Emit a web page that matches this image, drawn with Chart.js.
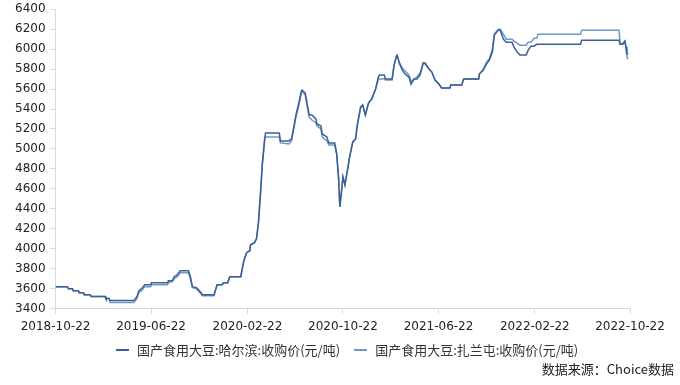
<!DOCTYPE html>
<html>
<head>
<meta charset="utf-8">
<script src="https://cdn.jsdelivr.net/npm/chart.js@4"></script>
<style>
  html, body { margin: 0; padding: 0; background: #fff; overflow: hidden; }
  #wrap { position: relative; width: 680px; height: 385px; overflow: hidden; }
  #chart { position: absolute; left: 0; top: -3px; }
  #legend { position: absolute; left: 116px; top: 340px; font: 13px "Noto Sans CJK SC", sans-serif; color: #333; white-space: nowrap; }
  #legend .item { display: inline-block; margin-right: 14px; }
  #legend .dash { display: inline-block; width: 13px; height: 2px; vertical-align: middle; margin-right: 8px; position: relative; top: -1px; }
  #source { position: absolute; right: 6px; top: 359px; font: 13px "Noto Sans CJK SC", sans-serif; color: #222; }
</style>
</head>
<body>
<div id="wrap">
  <canvas id="chart" width="680" height="388"></canvas>
  <div id="legend"></div>
  <div id="source">数据来源：Choice数据</div>
</div>
<script>
// Dates where the price changes
const dates = [
  '2018-10-22', '2018-11-21', '2018-11-24', '2018-12-04', '2018-12-06', '2018-12-19', '2018-12-21', '2019-01-01',
  '2019-01-03', '2019-01-18', '2019-01-21', '2019-02-25', '2019-02-27', '2019-03-07', '2019-03-10', '2019-05-09',
  '2019-05-17', '2019-05-22', '2019-05-29', '2019-06-06', '2019-06-21', '2019-06-23', '2019-08-03', '2019-08-05',
  '2019-08-15', '2019-08-20', '2019-08-28', '2019-09-04', '2019-09-25', '2019-09-30', '2019-10-05', '2019-10-15',
  '2019-10-20', '2019-10-27', '2019-10-30', '2019-11-29', '2019-12-07', '2019-12-19', '2019-12-24', '2020-01-03',
  '2020-01-08', '2020-02-05', '2020-02-13', '2020-02-20', '2020-02-28', '2020-03-01', '2020-03-11', '2020-03-16',
  '2020-03-21', '2020-03-26', '2020-03-31', '2020-04-06', '2020-04-08', '2020-05-13', '2020-05-16', '2020-06-07',
  '2020-06-13', '2020-06-18', '2020-06-25', '2020-07-03', '2020-07-08', '2020-07-10', '2020-07-18', '2020-07-23',
  '2020-07-28', '2020-08-04', '2020-08-14', '2020-08-17', '2020-08-27', '2020-08-30', '2020-09-11', '2020-09-16',
  '2020-10-01', '2020-10-06', '2020-10-11', '2020-10-14', '2020-10-19', '2020-10-22', '2020-10-27', '2020-11-03',
  '2020-11-08', '2020-11-16', '2020-11-23', '2020-11-28', '2020-12-06', '2020-12-11', '2020-12-18', '2020-12-26',
  '2021-01-03', '2021-01-13', '2021-01-20', '2021-01-23', '2021-02-04', '2021-02-07', '2021-02-24', '2021-03-01',
  '2021-03-07', '2021-03-09', '2021-03-14', '2021-03-22', '2021-03-29', '2021-04-08', '2021-04-13', '2021-04-21',
  '2021-04-28', '2021-05-06', '2021-05-14', '2021-05-19', '2021-05-29', '2021-06-05', '2021-06-13', '2021-06-23',
  '2021-06-30', '2021-07-21', '2021-07-23', '2021-08-20', '2021-08-25', '2021-10-02', '2021-10-04', '2021-10-14',
  '2021-10-22', '2021-10-29', '2021-11-06', '2021-11-11', '2021-11-21', '2021-11-26', '2021-12-04', '2021-12-11',
  '2021-12-26', '2021-12-31', '2022-01-08', '2022-01-15', '2022-01-31', '2022-02-05', '2022-02-12', '2022-02-20',
  '2022-02-27', '2022-03-02', '2022-06-18', '2022-06-21', '2022-09-24', '2022-09-27', '2022-10-04', '2022-10-09',
  '2022-10-12', '2022-10-14', '2022-10-17'
];

// 国产食用大豆:哈尔滨:收购价(元/吨)
const harbin = [
  3620, 3620, 3600, 3600, 3580, 3580, 3560, 3560,
  3540, 3540, 3520, 3520, 3500, 3500, 3480, 3480,
  3520, 3580, 3600, 3640, 3640, 3660, 3660, 3680,
  3680, 3720, 3740, 3780, 3780, 3720, 3620, 3610,
  3590, 3560, 3540, 3540, 3640, 3640, 3660, 3660,
  3720, 3720, 3880, 3960, 3980, 4040, 4060, 4100,
  4260, 4540, 4850, 5100, 5160, 5160, 5080, 5080,
  5100, 5200, 5350, 5480, 5580, 5590, 5560, 5450,
  5340, 5340, 5300, 5250, 5230, 5150, 5120, 5060,
  5060, 4950, 4700, 4420, 4600, 4720, 4640, 4800,
  4920, 5070, 5100, 5250, 5420, 5440, 5340, 5460,
  5500, 5600, 5720, 5740, 5740, 5700, 5700, 5840,
  5930, 5940, 5860, 5790, 5750, 5720, 5650, 5700,
  5700, 5740, 5860, 5860, 5800, 5770, 5690, 5650,
  5610, 5610, 5640, 5640, 5700, 5700, 5750, 5790,
  5850, 5890, 5970, 6140, 6190, 6190, 6100, 6070,
  6070, 6020, 5970, 5940, 5940, 5990, 6030, 6030,
  6050, 6050, 6050, 6090, 6090, 6050, 6050, 6080,
  6020, 5960, 5950
];

// 国产食用大豆:扎兰屯:收购价(元/吨)
const zhalantun = [
  3620, 3620, 3600, 3600, 3580, 3580, 3560, 3560,
  3540, 3540, 3520, 3520, 3500, 3500, 3460, 3460,
  3500, 3560, 3580, 3620, 3620, 3640, 3640, 3660,
  3670, 3700, 3720, 3760, 3760, 3700, 3610, 3600,
  3580, 3550, 3530, 3530, 3640, 3640, 3660, 3660,
  3720, 3720, 3880, 3960, 3980, 4040, 4060, 4100,
  4260, 4540, 4850, 5100, 5120, 5120, 5060, 5050,
  5080, 5180, 5330, 5460, 5560, 5580, 5540, 5430,
  5320, 5290, 5260, 5230, 5200, 5120, 5080, 5040,
  5040, 4950, 4700, 4420, 4600, 4720, 4640, 4800,
  4920, 5070, 5100, 5250, 5420, 5440, 5340, 5460,
  5500, 5600, 5700, 5700, 5700, 5690, 5690, 5840,
  5930, 5930, 5870, 5810, 5780, 5740, 5680, 5700,
  5720, 5760, 5860, 5850, 5800, 5770, 5690, 5650,
  5610, 5610, 5640, 5640, 5700, 5700, 5750, 5800,
  5870, 5900, 6000, 6150, 6200, 6200, 6150, 6100,
  6100, 6080, 6060, 6040, 6040, 6070, 6070, 6110,
  6110, 6150, 6150, 6190, 6190, 6050, 6060, 6080,
  6000, 5920, 5900
];

const tickDates = ['2018-10-22', '2019-06-22', '2020-02-22', '2020-10-22', '2021-06-22', '2022-02-22', '2022-10-22'];

const t0 = Date.parse(tickDates[0]);
function dayOf(d) {
    return (Date.parse(d) - t0) / 864e5;
}

const axisGray = '#d9d9d9';
const tickFont = { family: 'DejaVu Sans', size: 12 };

const chart = new Chart(document.getElementById('chart').getContext('2d'), {
    type: 'line',
    data: {
        datasets: [
            {
                label: '国产食用大豆:哈尔滨:收购价(元/吨)',
                data: dates.map((d, i) => ({ x: dayOf(d), y: harbin[i] })),
                borderColor: '#3a5f92',
                backgroundColor: '#3a5f92',
                borderWidth: 1.5,
                pointRadius: 0,
                tension: 0
            },
            {
                label: '国产食用大豆:扎兰屯:收购价(元/吨)',
                data: dates.map((d, i) => ({ x: dayOf(d), y: zhalantun[i] })),
                borderColor: '#7097c8',
                backgroundColor: '#7097c8',
                borderWidth: 1.5,
                pointRadius: 0,
                tension: 0
            }
        ]
    },
    options: {
        responsive: false,
        animation: false,
        devicePixelRatio: 1,
        layout: { padding: { left: 10, right: 50, top: 0, bottom: 45 } },
        scales: {
            x: {
                type: 'linear',
                min: 0,
                max: dayOf(tickDates[tickDates.length - 1]),
                afterBuildTicks: (axis) => {
                    axis.ticks = tickDates.map(d => ({ value: dayOf(d) }));
                },
                ticks: {
                    autoSkip: false,
                    maxRotation: 0,
                    padding: 6,
                    color: '#222',
                    font: tickFont,
                    callback: (v, i) => tickDates[i]
                },
                grid: { drawOnChartArea: false, tickLength: 5, color: axisGray },
                border: { color: axisGray }
            },
            y: {
                min: 3400,
                max: 6400,
                ticks: { stepSize: 200, padding: 5, color: '#222', font: tickFont, callback: v => String(v) },
                grid: { drawOnChartArea: false, tickLength: 5, color: axisGray },
                border: { color: axisGray }
            }
        },
        plugins: {
            legend: { display: false },
            tooltip: { enabled: false }
        }
    }
});

// Legend row under the axis, built from the datasets
const legendEl = document.getElementById('legend');
chart.data.datasets.forEach(ds => {
    const item = document.createElement('span');
    item.className = 'item';
    const dash = document.createElement('span');
    dash.className = 'dash';
    dash.style.background = ds.borderColor;
    item.appendChild(dash);
    item.appendChild(document.createTextNode(ds.label));
    legendEl.appendChild(item);
});
</script>
</body>
</html>
